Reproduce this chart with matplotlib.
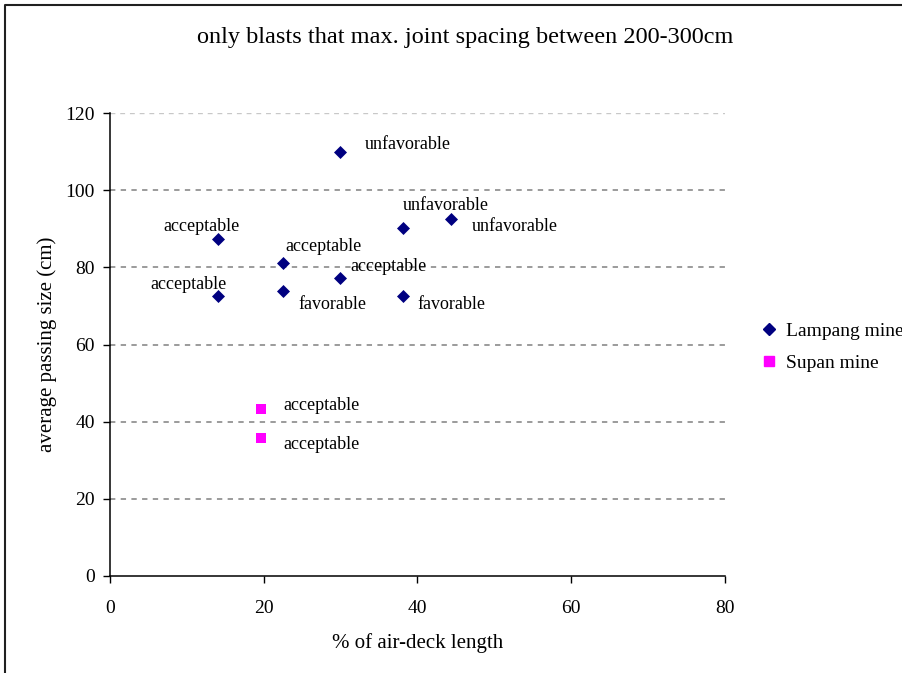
import matplotlib.pyplot as plt
from matplotlib.lines import Line2D

# Lampang mine
lampang_x = [29.9, 44.4, 38.1, 14.1, 22.5, 29.9, 14.1, 22.5, 38.1]
lampang_y = [110.0, 92.4, 90.3, 87.3, 81.0, 77.2, 72.6, 73.9, 72.6]
lampang_labels = ['unfavorable', 'unfavorable', 'unfavorable', 'acceptable', 'acceptable',
                  'acceptable', 'acceptable', 'favorable', 'favorable']

# Supan mine
supan_x = [19.6, 19.6]
supan_y = [43.3, 35.8]
supan_labels = ['acceptable', 'acceptable']

x_ticks = [0, 20, 40, 60, 80]
y_ticks = [0, 20, 40, 60, 80, 100, 120]

# label offsets in pixels (dx, dy, ha)
lampang_offsets = [(25, 7, 'left'), (20, -7, 'left'), (43, 22, 'center'), (-17, 13, 'center'),
                   (2, 17, 'left'), (11, 12, 'left'), (-30, 11, 'center'), (15, -14, 'left'),
                   (15, -9, 'left')]
supan_offsets = [(23, 3, 'left'), (23, -7, 'left')]

plt.rcParams['font.family'] = ['Liberation Serif', 'DejaVu Serif']

fig = plt.figure(figsize=(9.03, 6.73), dpi=100)
ax = fig.add_axes([110 / 903, 1 - 576 / 673, 615 / 903, 463 / 673])

for y in y_ticks[1:-1]:
    ax.axhline(y, color='#808080', lw=1.1, ls=(0, (3.5, 3.5)), zorder=0)
ax.axhline(120, color='#c8c8c8', lw=1.0, ls=(0, (3.5, 3.5)), zorder=0)

ax.scatter(lampang_x, lampang_y, marker='D', s=44, color='#000080', zorder=3, linewidths=0)
ax.scatter(supan_x, supan_y, marker='s', s=48, color='#ff00ff', zorder=3, linewidths=0)

pt = 72 / 100
for x, y, t, (dx, dy, ha) in zip(lampang_x, lampang_y, lampang_labels, lampang_offsets):
    ax.annotate(t, (x, y), xytext=(dx * pt, dy * pt), textcoords='offset points',
                ha=ha, va='center', fontsize=13)
for x, y, t, (dx, dy, ha) in zip(supan_x, supan_y, supan_labels, supan_offsets):
    ax.annotate(t, (x, y), xytext=(dx * pt, dy * pt), textcoords='offset points',
                ha=ha, va='center', fontsize=13)

ax.set_xlim(0, 80)
ax.set_ylim(0, 120)
ax.set_xticks(x_ticks)
ax.set_yticks(y_ticks)
ax.tick_params(labelsize=14, length=5, width=1, direction='out', color='black')
ax.tick_params(axis='x', pad=12)
ax.tick_params(axis='y', pad=6)
ax.spines['top'].set_visible(False)
ax.spines['right'].set_visible(False)
for s in ['left', 'bottom']:
    ax.spines[s].set_linewidth(1.1)

ax.set_xlabel('% of air-deck length', fontsize=15, labelpad=12)
ax.set_ylabel('average passing size (cm)', fontsize=15, labelpad=6)
fig.text(465 / 903, 1 - 38 / 673, 'only blasts that max. joint spacing between 200-300cm',
         ha='center', va='center', fontsize=17.5)

handles = [Line2D([], [], marker='D', color='#000080', ls='', markersize=6),
           Line2D([], [], marker='s', color='#ff00ff', ls='', markersize=7)]
fig.legend(handles, ['Lampang mine', 'Supan mine'], loc='center left',
           bbox_to_anchor=(755 / 903, 1 - 347 / 673), frameon=False, fontsize=14,
           handlelength=0.6, handletextpad=0.6, labelspacing=0.75, borderaxespad=0)

# outer chart border (left and top edges visible)
fig.add_artist(Line2D([5 / 903, 5 / 903, 1.0], [0.0, 1 - 5 / 673, 1 - 5 / 673],
                      transform=fig.transFigure, color='#202020', lw=1.5))

fig.savefig('out.png', dpi=100)
